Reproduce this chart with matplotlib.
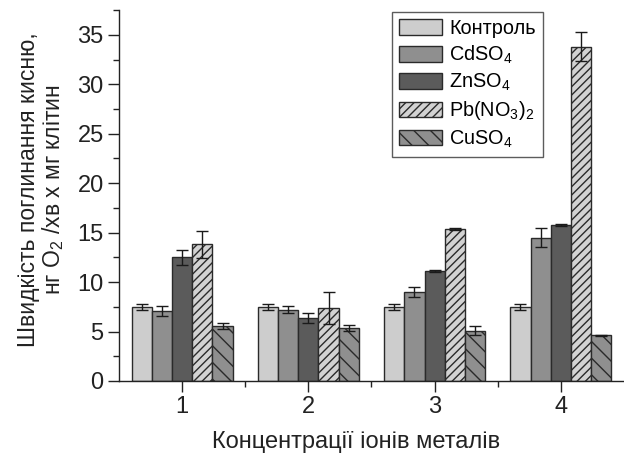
import numpy as np
import matplotlib
matplotlib.use("Agg")
import matplotlib.pyplot as plt
from matplotlib.ticker import MultipleLocator

plt.rcParams['font.family'] = ['Liberation Sans', 'DejaVu Sans']
plt.rcParams['mathtext.fontset'] = 'custom'
plt.rcParams['mathtext.rm'] = 'Liberation Sans'
plt.rcParams['mathtext.it'] = 'Liberation Sans'
plt.rcParams['mathtext.default'] = 'regular'
plt.rcParams['hatch.linewidth'] = 1.0

groups = [1, 2, 3, 4]
series = ['Контроль', 'CdSO$_4$', 'ZnSO$_4$', 'Pb(NO$_3$)$_2$', 'CuSO$_4$']
control = [7.5, 7.5, 7.5, 7.5]
cdso4 = [7.1, 7.2, 9.0, 14.5]
znso4 = [12.5, 6.4, 11.1, 15.8]
pbno3 = [13.8, 7.4, 15.4, 33.8]
cuso4 = [5.6, 5.4, 5.1, 4.6]
control_err = [0.3, 0.3, 0.3, 0.3]
cdso4_err = [0.5, 0.35, 0.5, 1.0]
znso4_err = [0.75, 0.5, 0.1, 0.1]
pbno3_err = [1.4, 1.6, 0.1, 1.45]
cuso4_err = [0.3, 0.3, 0.5, 0.1]

values = [control, cdso4, znso4, pbno3, cuso4]
errors = [control_err, cdso4_err, znso4_err, pbno3_err, cuso4_err]
faces = ['#cdcdcd', '#8f8f8f', '#5b5b5b', '#d2d2d2', '#8f8f8f']
hatches = [None, None, None, '////', '\\\\']

fig = plt.figure(figsize=(6.24, 4.54), dpi=100)
ax = fig.add_axes([0.1907, 0.1608, 0.8093, 0.817])

w = 0.16
x = np.array(groups, dtype=float)
for i, (vals, errs, fc, h, lab) in enumerate(zip(values, errors, faces, hatches, series)):
    pos = x + (i - 2) * w
    ax.bar(pos, vals, width=w, color=fc, edgecolor='#2a2a2a', linewidth=1.0,
           hatch=h, label=lab, zorder=2)
    ax.errorbar(pos, vals, yerr=errs, fmt='none', ecolor='#1a1a1a',
                elinewidth=1.0, capsize=4, capthick=1.0, zorder=3)

ax.set_xlim(0.5, 4.5)
ax.set_ylim(0, 37.5)
ax.set_xticks(groups)
ax.set_xticklabels([str(g) for g in groups])
ax.set_xticks([1.5, 2.5, 3.5], minor=True)
ax.yaxis.set_major_locator(MultipleLocator(5))
ax.yaxis.set_minor_locator(MultipleLocator(2.5))
for s in ['top', 'right']:
    ax.spines[s].set_visible(False)
for s in ['left', 'bottom']:
    ax.spines[s].set_color('#222222')
    ax.spines[s].set_linewidth(1.0)
ax.tick_params(axis='both', which='major', direction='out', length=8, width=1.0,
               labelsize=17, colors='#222222', pad=3)
ax.tick_params(axis='both', which='minor', direction='out', length=4, width=1.0,
               colors='#222222')
ax.set_xlabel('Концентрації іонів металів', fontsize=17, color='#222222')
ax.xaxis.set_label_coords(0.47, -0.135)
ax.set_ylabel('Швидкість поглинання кисню,\nнг O$_2$ /хв х мг клітин', fontsize=16.5,
              color='#222222', linespacing=1.0)
ax.yaxis.set_label_coords(-0.105, 0.515)

leg = ax.legend(loc='upper left', bbox_to_anchor=(0.54, 0.995), borderaxespad=0,
                fancybox=False, edgecolor='#333333', fontsize=14.3,
                handlelength=2.2, handleheight=0.85, labelspacing=0.3,
                handletextpad=0.35, borderpad=0.35)
leg.get_frame().set_linewidth(1.0)

fig.savefig('out.png', dpi=100)
